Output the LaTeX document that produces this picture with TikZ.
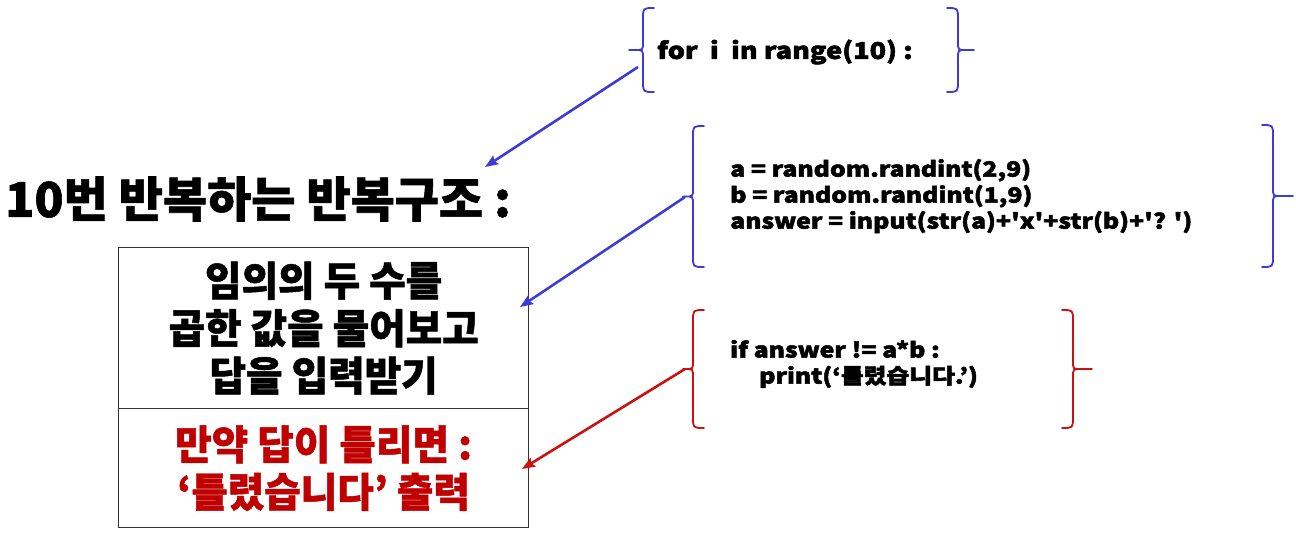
\documentclass[tikz,border=0pt]{standalone}
\usepackage{fontspec}
\usetikzlibrary{arrows.meta}
\newfontfamily\heavy{Noto Sans CJK KR Black}[FakeBold=1.2]
\newfontfamily\heavyn{Noto Sans CJK KR Black}[FakeStretch=0.98,FakeBold=1.2]
\newfontfamily\codef{Noto Sans CJK KR Black}[FakeStretch=1.18,FakeBold=2.4]
\definecolor{bl}{HTML}{3B3BD6}
\definecolor{rd}{HTML}{C00000}
\definecolor{rdl}{HTML}{CC1111}
\definecolor{boxc}{HTML}{333333}
% #1 style, #2 x of vertical, #3 top, #4 bottom, #5 dir (1 = opens right), #6 tip length
\newcommand\curlyb[6]{%
  \draw[#1] ({#2+(#5)*11},#3) .. controls (#2,#3) .. (#2,{#3+11})
    -- (#2,{(#3+#4)/2-8}) .. controls (#2,{(#3+#4)/2}) .. ({#2-(#5)*8},{(#3+#4)/2})
    -- ({#2-(#5)*#6},{(#3+#4)/2})
    ({#2-(#5)*8},{(#3+#4)/2}) .. controls (#2,{(#3+#4)/2}) .. (#2,{(#3+#4)/2+8})
    -- (#2,{#4-11}) .. controls (#2,#4) .. ({#2+(#5)*11},#4);}
\tikzset{
  brc/.style={line width=1.8pt, line cap=round},
  arr/.style={line width=2.6pt, -{Stealth[length=13pt,width=10pt,inset=2pt]}},
  codetxt/.style={inner sep=0, anchor=west, align=left, font=\codef\fontsize{21}{26}\selectfont},
  boxtxt/.style={draw=boxc, line width=1.3pt, inner sep=0, anchor=north west, minimum width=410pt, align=center, font=\heavyn\fontsize{40.5}{47.5}\selectfont}
}
\begin{document}
\begin{tikzpicture}[x=1pt,y=-1pt]
\useasboundingbox (0,0) rectangle (1296,539);
\fill[white] (0,0) rectangle (1296,539);

% left side
\node[anchor=west, inner sep=0, font=\heavy\fontsize{48}{50}\selectfont] (title) at (5,199) {10번 반복하는 반복구조 :};
\node[boxtxt, minimum height=161pt] (box1) at (118,247) {임의의 두 수를\\곱한 값을 물어보고\\답을 입력받기};
\node[boxtxt, minimum height=119pt, text=rd] (box2) at (118,408) {만약 답이 틀리면 :\\‘틀렸습니다’ 출력};

% code
\node[codetxt, font=\codef\fontsize{23}{26}\selectfont] (c1) at (657,52) {for\ \ i\ \ in range(10) :};
\node[codetxt] (c2) at (730,196) {a = random.randint(2,9)\\b = random.randint(1,9)\\answer = input(str(a)+'x'+str(b)+'? ')};
\node[codetxt] (c3) at (730,364) {if answer != a*b :\\\hspace*{29pt}print(‘틀렸습니다.’)};

% braces
\curlyb{brc,bl}{643}{8}{92}{1}{14}
\curlyb{brc,bl}{958}{8}{92}{-1}{16}
\curlyb{brc,bl}{693}{126}{267}{1}{10}
\curlyb{brc,bl}{1273}{125}{267}{-1}{20}
\curlyb{brc,rdl}{693}{310}{428}{1}{10}
\curlyb{brc,rdl}{1073}{310}{428}{-1}{19}

% arrows
\coordinate (a1s) at (638,67);
\coordinate (a1e) at (485,167);
\coordinate (a2s) at (685,197);
\coordinate (a2e) at (520,307);
\coordinate (a3s) at (685,369);
\coordinate (a3e) at (522,469);
\draw[arr, bl] (a1s) -- (a1e);
\draw[arr, bl] (a2s) -- (a2e);
\draw[arr, rdl] (a3s) -- (a3e);
\end{tikzpicture}
\end{document}
